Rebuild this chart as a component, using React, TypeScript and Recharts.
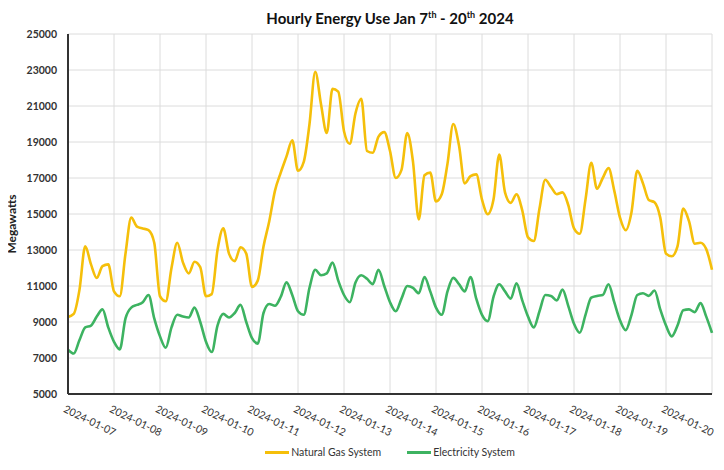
import { LineChart, Line, XAxis, YAxis, CartesianGrid, Legend } from "recharts";

// 3-hourly readings, Jan 7 00:00 to Jan 21 00:00
const gasSystem = [
  9280, 9450, 10800, 13200, 12200, 11450, 12100, 12200,
  10700, 10430, 12800, 14800, 14300, 14200, 14100, 13400,
  10430, 10150, 12000, 13400, 12300, 11700, 12350, 12050,
  10430, 10550, 13000, 14200, 12800, 12380, 13150, 12800,
  10950, 11300, 13200, 14600, 16300, 17300, 18200, 19100,
  17400, 17900, 20000, 22900, 21100, 19500, 21950, 21800,
  19600, 18900, 20600, 21400, 18500, 18400, 19300, 19550,
  18500, 17000, 17450, 19500, 17900, 14700, 17150, 17300,
  15700, 16100, 17800, 20000, 18800, 16700, 17100, 17200,
  15800, 14990, 15800, 18300, 16200, 15620, 16100, 15200,
  13700, 13500, 15300, 16900, 16500, 16100, 16200, 15500,
  14200, 13900, 15800, 17850, 16400, 17000, 17550, 16300,
  14800, 14100, 15100, 17400, 16700, 15780, 15650, 14800,
  12800, 12650, 13200, 15300, 14600, 13350, 13400, 13050,
  11900,
];

const electricSystem = [
  7460, 7250, 8000, 8700, 8800, 9300, 9700, 8700,
  7900, 7480, 9200, 9800, 9950, 10100, 10500, 9200,
  8200, 7570, 8700, 9400, 9300, 9250, 9800, 9000,
  7900, 7330, 8800, 9450, 9250, 9500, 9950, 9000,
  8100, 7800, 9500, 10000, 9900, 10400, 11200, 10500,
  9600, 9400, 10900, 11900, 11600, 11700, 12300, 11300,
  10500, 10100, 11200, 11600, 11400, 11100, 11900, 11000,
  10100, 9600, 10300, 11000, 10900, 10600, 11500, 10700,
  9800, 9400, 10700, 11450, 11100, 10700, 11500, 10300,
  9400, 9050, 10400, 11100, 10700, 10300, 11150, 10200,
  9300, 8700, 9600, 10500, 10450, 10200, 10800, 9900,
  8900, 8400, 9400, 10350, 10450, 10500, 11100, 10100,
  9100, 8550, 9400, 10500, 10600, 10450, 10750, 9700,
  8800, 8200, 8800, 9650, 9700, 9550, 10050, 9300,
  8400,
];

const dayLabels = [
  "2024-01-07", "2024-01-08", "2024-01-09", "2024-01-10", "2024-01-11",
  "2024-01-12", "2024-01-13", "2024-01-14", "2024-01-15", "2024-01-16",
  "2024-01-17", "2024-01-18", "2024-01-19", "2024-01-20",
];

const yTicks = [5000, 7000, 9000, 11000, 13000, 15000, 17000, 19000, 21000, 23000, 25000];

const GAS = "#F5BF0A";
const ELEC = "#3DB361";
const FONT = "Lato, 'Open Sans', sans-serif";

const data = gasSystem.map((g, i) => ({ hour: i * 3, gas: g, elec: electricSystem[i] }));
const dayTicks = [...dayLabels.map((_, i) => i * 24), dayLabels.length * 24];
const minorTicks: number[] = [];
for (let v = 5000; v <= 25000; v += 200) minorTicks.push(v);

function DateTick(props: any) {
  const { x, y, payload } = props;
  const label = dayLabels[payload.value / 24];
  if (!label) return <g />;
  return (
    <g transform={`translate(${x - 2},${y + 3})`}>
      <text transform="rotate(26)" textAnchor="start" dy="0.7em" fontSize={10.5} fill="#333" fontFamily={FONT}>
        {label}
      </text>
    </g>
  );
}

function AxisTitle(props: any) {
  const { viewBox } = props;
  const cy = viewBox.y + viewBox.height / 2 + 10;
  return (
    <text x={11} y={cy} transform={`rotate(-90, 11, ${cy})`} textAnchor="middle" dominantBaseline="central" fontSize={12} fontWeight="bold" fill="#222" fontFamily={FONT}>
      Megawatts
    </text>
  );
}

function LegendBox() {
  const item = (color: string, text: string) => (
    <div style={{ display: "flex", alignItems: "center", margin: "0 13px" }}>
      <div style={{ width: 24, height: 3, background: color, marginRight: 2 }} />
      <span>{text}</span>
    </div>
  );
  return (
    <div style={{ height: 20, display: "flex", justifyContent: "center", alignItems: "center", fontSize: 10.5, color: "#333", fontFamily: FONT }}>
      {item(GAS, "Natural Gas System")}
      {item(ELEC, "Electricity System")}
    </div>
  );
}

export default function App() {
  return (
    <div style={{ position: "relative", width: 724, height: 470, margin: "-8px 0 0 -8px", background: "#fff" }}>
      <div style={{ position: "absolute", left: 68, top: 6, width: 644, textAlign: "center", fontFamily: FONT, fontWeight: "bold", fontSize: 15, lineHeight: "18px", color: "#111", zIndex: 1 }}>
        Hourly Energy Use Jan 7<sup style={{ fontSize: 9 }}>th</sup> - 20<sup style={{ fontSize: 9 }}>th</sup> 2024
      </div>
      <LineChart width={724} height={470} data={data} margin={{ top: 34, right: 12, bottom: 8, left: 0 }}>
        <CartesianGrid stroke="#dcdcdc" strokeWidth={1} />
        <XAxis
          dataKey="hour"
          type="number"
          domain={[0, 336]}
          ticks={dayTicks}
          interval={0}
          height={48}
          tickLine={false}
          axisLine={{ stroke: "#333", strokeWidth: 2 }}
          tick={<DateTick />}
        />
        <YAxis
          yAxisId="minor"
          domain={[5000, 25000]}
          ticks={minorTicks}
          interval={0}
          width={0}
          tickSize={3}
          tick={() => <g />}
          tickLine={{ stroke: "#333" }}
          axisLine={false}
        />
        <YAxis
          domain={[5000, 25000]}
          ticks={yTicks}
          interval={0}
          width={68}
          tickSize={0}
          tickMargin={11}
          tickLine={false}
          axisLine={{ stroke: "#333", strokeWidth: 2 }}
          tick={{ fontSize: 10.5, fontWeight: "bold", fill: "#333", fontFamily: FONT }}
          label={<AxisTitle />}
        />
        <Legend verticalAlign="bottom" content={<LegendBox />} wrapperStyle={{ left: 68, width: 644, bottom: 8 }} />
        <Line type="monotone" dataKey="gas" name="Natural Gas System" stroke={GAS} strokeWidth={2.6} dot={false} isAnimationActive={false} />
        <Line type="monotone" dataKey="elec" name="Electricity System" stroke={ELEC} strokeWidth={2.6} dot={false} isAnimationActive={false} />
      </LineChart>
    </div>
  );
}
